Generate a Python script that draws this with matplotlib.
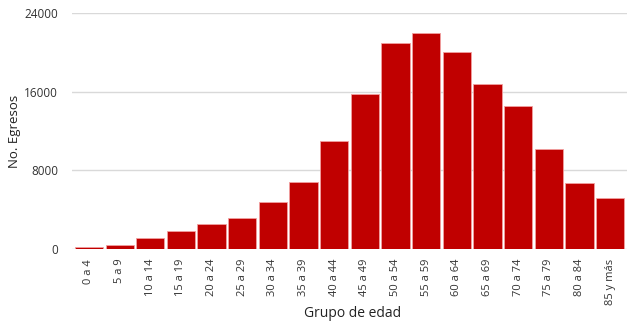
import matplotlib
matplotlib.use("Agg")
import matplotlib.pyplot as plt
import numpy as np

plt.rcParams['font.family'] = ['Open Sans', 'DejaVu Sans']

grupos = ['0 a 4', '5 a 9', '10 a 14', '15 a 19', '20 a 24', '25 a 29', '30 a 34',
          '35 a 39', '40 a 44', '45 a 49', '50 a 54', '55 a 59', '60 a 64',
          '65 a 69', '70 a 74', '75 a 79', '80 a 84', '85 y más']
egresos = [200, 380, 1150, 1860, 2540, 3190, 4810, 6810, 10980, 15760,
           20920, 21970, 20070, 16750, 14510, 10200, 6740, 5190]
yticks = [0, 8000, 16000, 24000]

fig = plt.figure(figsize=(6.27, 3.21), dpi=100)
ax = fig.add_axes([0.115, 0.224, 0.885, 0.736])

x = np.arange(len(grupos))
ax.bar(x, egresos, width=0.92, color='#C00000', edgecolor='#F2A0A0', linewidth=0.6, zorder=3)

ax.set_xlim(-0.55, len(grupos) - 0.45)
ax.set_ylim(0, 24000)
ax.set_yticks(yticks)
ax.set_yticklabels([str(v) for v in yticks], fontsize=8.5, color='#333333')
ax.set_xticks(x)
ax.set_xticklabels(grupos, rotation=90, fontsize=8, color='#333333')
ax.tick_params(axis='x', length=0, pad=7)
ax.tick_params(axis='y', length=0, pad=10)
ax.grid(axis='y', color='#D9D9D9', linewidth=1, zorder=0)
for s in ax.spines.values():
    s.set_visible(False)

ax.set_ylabel('No. Egresos', fontsize=9.5, color='#222222')
ax.yaxis.set_label_coords(-0.092, 0.5)
ax.set_xlabel('Grupo de edad', fontsize=10, color='#222222')
ax.xaxis.set_label_coords(0.505, -0.272)
ax.xaxis.label.set_va('center')

fig.savefig('out.png', dpi=100)
